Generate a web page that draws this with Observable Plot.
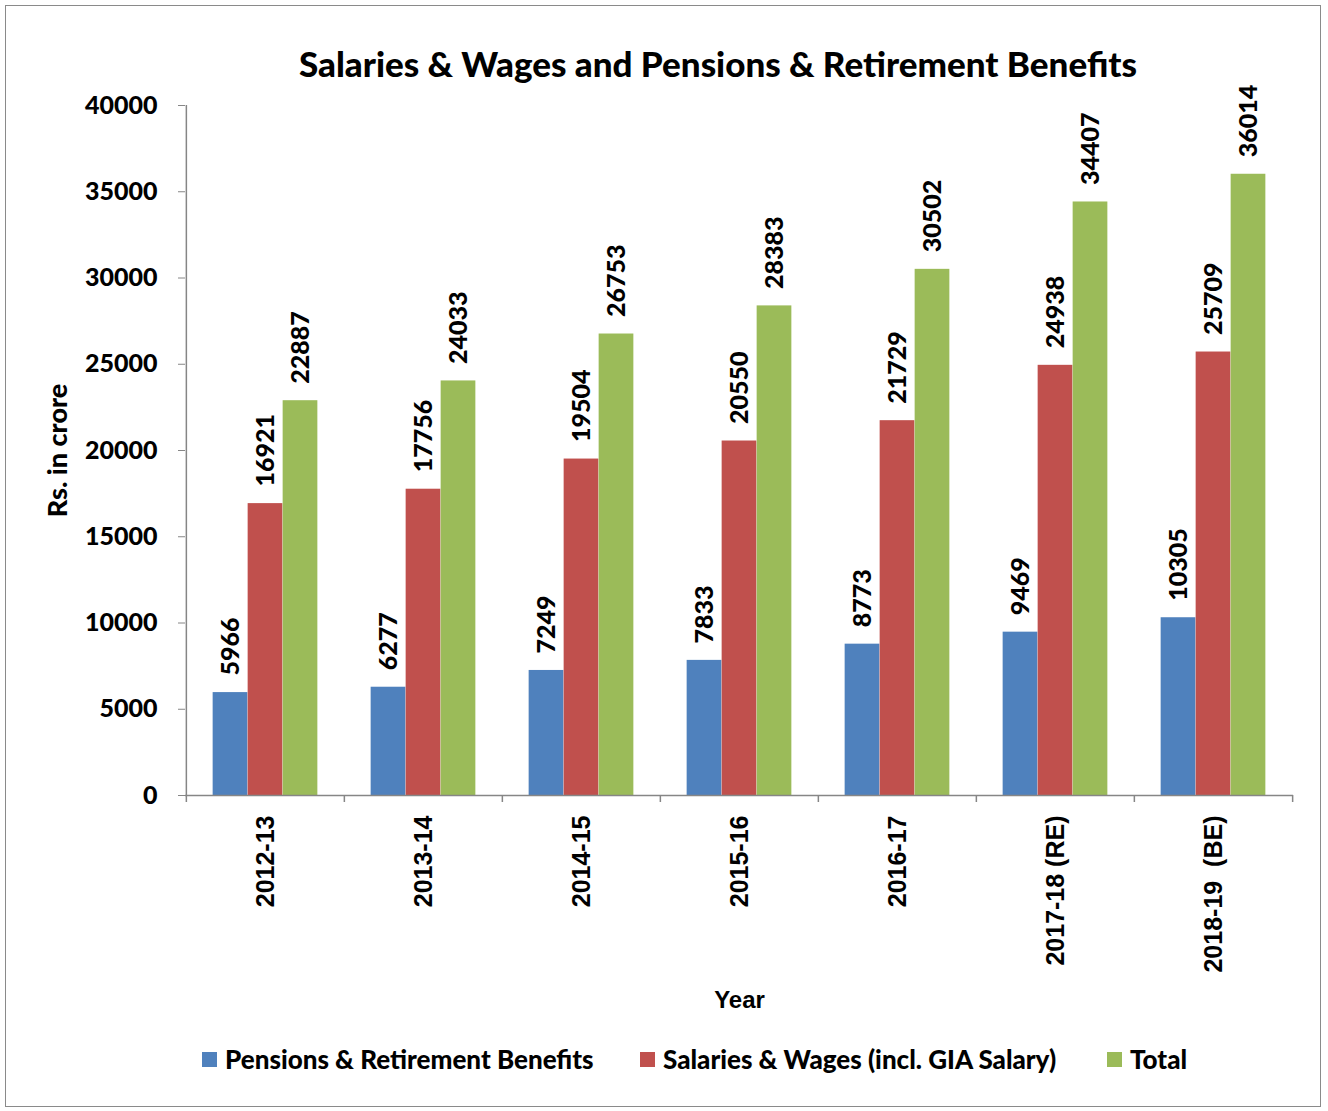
<!DOCTYPE html>
<html>
<head>
<meta charset="utf-8">
<script src="https://cdn.jsdelivr.net/npm/d3@7"></script>
<script src="https://cdn.jsdelivr.net/npm/@observablehq/plot@0.6"></script>
<style>
  html, body { margin: 0; padding: 0; background: #fff; }
  #page { position: relative; width: 1328px; height: 1111px; overflow: hidden; }
  #border { position: absolute; left: 5px; top: 5px; width: 1316px; height: 1102px; border: 1.5px solid #8a8a8a; box-sizing: border-box; }
  #title { position: absolute; left: 218px; width: 1000px; top: 42px; text-align: center;
           font-family: Lato, "Open Sans", sans-serif; font-weight: 900; font-size: 35px; line-height: 42px; color: #000; }
  #chart { position: absolute; left: 0; top: 0; }
  #chart svg text { white-space: pre; }
  .leg { position: absolute; top: 1044px; height: 30px; display: flex; align-items: center;
         font-family: Lato, "Open Sans", sans-serif; font-weight: 900; font-size: 26px; color: #000; white-space: nowrap; }
  .sw { width: 15px; height: 15px; margin-right: 8px; flex: none; }
</style>
</head>
<body>
<div id="page">
  <div id="border"></div>
  <div id="title"></div>
  <div id="chart"></div>
  <div id="legend"></div>
</div>
<script>
// ---- data ----
const years = ["2012-13", "2013-14", "2014-15", "2015-16", "2016-17", "2017-18 (RE)", "2018-19  (BE)"];
const pensions = [5966, 6277, 7249, 7833, 8773, 9469, 10305];
const salaries = [16921, 17756, 19504, 20550, 21729, 24938, 25709];
const totals = [22887, 24033, 26753, 28383, 30502, 34407, 36014];
const seriesNames = ["Pensions & Retirement Benefits", "Salaries & Wages (incl. GIA Salary)", "Total"];
const seriesColors = ["#4F81BD", "#C0504D", "#9BBB59"];
const yTicks = [0, 5000, 10000, 15000, 20000, 25000, 30000, 35000, 40000];
const titleText = "Salaries & Wages and Pensions & Retirement Benefits";
const yLabel = "Rs. in crore";
const xLabel = "Year";

// ---- layout ----
const W = 1328, H = 1040;
const mL = 185, mR = 35, mT = 105, mB = H - 795;
const step = (W - mL - mR) / years.length;
const barW = 35;
const inset = (step - barW) / 2;
const grey = "#868686";
const calibriLike = "Lato, 'Open Sans', sans-serif";
const arialLike = "'Liberation Sans', Arial, sans-serif";

const seriesValues = [pensions, salaries, totals];
const rows = years.map((y, i) => ({year: y, v: seriesValues.map(s => s[i])}));

document.getElementById("title").textContent = titleText;

const marks = [];
seriesValues.forEach((s, k) => {
  marks.push(Plot.barY(rows, {
    x: "year", y: d => d.v[k], fill: seriesColors[k],
    insetLeft: inset, insetRight: inset, dx: (k - 1) * barW
  }));
});
seriesValues.forEach((s, k) => {
  marks.push(Plot.text(rows, {
    x: "year", y: d => d.v[k], text: d => String(d.v[k]),
    dx: (k - 1) * barW, dy: -17, rotate: -90, textAnchor: "start", lineAnchor: "middle",
    fontSize: 25, fontWeight: 900, fontFamily: calibriLike, fill: "#000"
  }));
});
// axes
marks.push(Plot.ruleY([0], {stroke: grey, strokeWidth: 1.5}));
marks.push(Plot.ruleX([years[0]], {x: d => d, y1: 40000, y2: 0, insetBottom: -7, dx: -step / 2, stroke: grey, strokeWidth: 1.5}));
marks.push(Plot.ruleX(years.slice(1), {x: d => d, y1: 0, y2: 0, insetBottom: -7, dx: -step / 2, stroke: grey, strokeWidth: 1.5}));
marks.push(Plot.ruleX([years[years.length - 1]], {x: d => d, y1: 0, y2: 0, insetBottom: -7, dx: step / 2, stroke: grey, strokeWidth: 1.5}));
marks.push(Plot.axisY({
  ticks: yTicks, tickSize: 7, tickPadding: 21, tickFormat: d => String(d), label: null,
  stroke: grey, fill: "#000", fontSize: 25, fontWeight: 900, fontFamily: calibriLike
}));
marks.push(Plot.axisX({
  tickSize: 0, tickPadding: 20, tickRotate: -90, textAnchor: "end", lineAnchor: "middle", label: null,
  fill: "#000", fontSize: 25, fontWeight: "bold", fontFamily: arialLike
}));
marks.push(Plot.text([yLabel], {
  frameAnchor: "left", dx: -127, rotate: -90, text: d => d, textAnchor: "middle", lineAnchor: "middle",
  fontSize: 27, fontWeight: 900, fontFamily: calibriLike, fill: "#000"
}));
marks.push(Plot.text([xLabel], {
  frameAnchor: "bottom", dy: 205, text: d => d, textAnchor: "middle", lineAnchor: "middle",
  fontSize: 24, fontWeight: "bold", fontFamily: arialLike, fill: "#000"
}));

const chart = Plot.plot({
  width: W, height: H,
  marginLeft: mL, marginRight: mR, marginTop: mT, marginBottom: mB,
  x: {type: "band", domain: years, padding: 0, axis: null},
  y: {domain: [0, 40000], axis: null},
  style: {background: "transparent", overflow: "visible"},
  marks
});
document.getElementById("chart").appendChild(chart);

// legend
const legLefts = [202, 640, 1107];
const legend = document.getElementById("legend");
seriesNames.forEach((n, k) => {
  const item = document.createElement("div");
  item.className = "leg";
  item.style.left = legLefts[k] + "px";
  const sw = document.createElement("span");
  sw.className = "sw";
  sw.style.background = seriesColors[k];
  const t = document.createElement("span");
  t.textContent = n;
  item.appendChild(sw);
  item.appendChild(t);
  legend.appendChild(item);
});
</script>
</body>
</html>
